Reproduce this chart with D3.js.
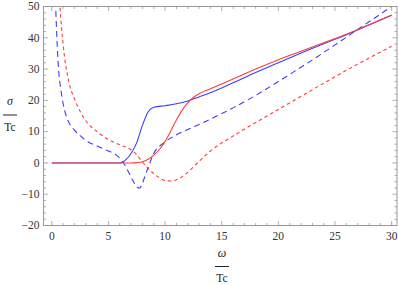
<!DOCTYPE html>
<html>
<head>
<meta charset="utf-8">
<script src="https://cdn.jsdelivr.net/npm/d3@7"></script>
<style>
body { margin: 0; background: #fff; }
</style>
</head>
<body>
<script>
// Data
let blueSolidX = [0, 6.0, 6.5, 7.0, 7.5, 8.0, 8.5, 9.0, 10, 11, 12, 13, 14, 16, 18, 20, 22, 24, 26, 28, 30];
let blueSolidY = [0, 0, 0.9, 3, 6.5, 12, 16.3, 17.8, 18.3, 18.9, 19.8, 21.1, 22.4, 25.6, 28.9, 32.0, 35.1, 38.1, 41.0, 44.1, 47.2];

let redSolidX = [0, 7, 7.5, 8, 8.5, 9, 9.5, 10, 10.5, 11, 11.5, 12, 12.5, 13, 14, 16, 18, 20, 22, 24, 26, 28, 30];
let redSolidY = [0, 0, 0.1, 0.4, 1.2, 2.5, 4.3, 6.9, 10.2, 13.7, 16.8, 19.2, 20.9, 22.1, 23.7, 26.8, 30.0, 33.0, 35.7, 38.4, 41.1, 44.2, 47.3];

let blueDashX = [0.3, 0.45, 0.6, 0.8, 1, 1.5, 2, 2.5, 3, 4, 5, 5.5, 6, 6.5, 7, 7.5, 7.75, 8, 8.5, 9, 10, 11, 12, 13, 14, 16, 18, 20, 22, 24, 26, 28, 30];
let blueDashY = [55, 40, 30, 23.5, 19, 13, 10.5, 8.7, 7.2, 5.4, 3.8, 3, 1.5, -1, -4.5, -7.6, -8.1, -6.4, -1.5, 3, 6.7, 9, 10.7, 12.3, 14, 17.6, 21.6, 26, 30.6, 35.3, 40.2, 45.1, 50];

let redDashX = [0.6, 0.73, 1.0, 1.5, 2, 2.5, 3, 4, 5, 6, 7, 7.5, 8, 9, 10, 10.5, 11, 12, 13, 14, 16, 18, 20, 22, 24, 26, 28, 30];
let redDashY = [60, 50, 38, 26, 20.5, 16.5, 13.5, 10, 7.5, 5.8, 4.2, 2.6, 0.3, -3.4, -5.6, -5.8, -5.4, -3, 0.5, 3.8, 8.6, 12.9, 17.1, 21.3, 25.5, 29.6, 33.5, 37.3];

let xTicks = [0, 5, 10, 15, 20, 25, 30];
let yTicks = [-20, -10, 0, 10, 20, 30, 40, 50];

let series = [
    { x: blueDashX, y: blueDashY, color: "#3c3cff", dash: "6,4" },
    { x: redDashX, y: redDashY, color: "#ff3c3c", dash: "3.5,3" },
    { x: blueSolidX, y: blueSolidY, color: "#3c3cff", dash: null },
    { x: redSolidX, y: redSolidY, color: "#ff3c3c", dash: null }
];

let serif = "'Liberation Serif'";
let width = 399, height = 285;
let plot = { left: 43.5, right: 397, top: 6.5, bottom: 225.5 };

let x = d3.scaleLinear([-0.73, 30.47], [plot.left, plot.right]);
let y = d3.scaleLinear([-20, 50], [plot.bottom, plot.top]);

let svg = d3.select("body")
    .append("svg")
    .attr("width", width)
    .attr("height", height);

svg.append("clipPath")
    .attr("id", "clip")
    .append("rect")
    .attr("x", plot.left)
    .attr("y", plot.top)
    .attr("width", plot.right - plot.left)
    .attr("height", plot.bottom - plot.top);

// Curves
let line = d3.line()
    .x(d => x(d[0]))
    .y(d => y(d[1]))
    .curve(d3.curveMonotoneX);

svg.append("g")
    .attr("clip-path", "url(#clip)")
    .selectAll("path")
    .data(series)
    .enter()
    .append("path")
    .attr("d", s => line(s.x.map((v, i) => [v, s.y[i]])))
    .attr("fill", "none")
    .attr("stroke", s => s.color)
    .attr("stroke-width", 1.1)
    .attr("stroke-dasharray", s => s.dash);

// Frame
let frameColor = "#999";
svg.append("rect")
    .attr("x", plot.left)
    .attr("y", plot.top)
    .attr("width", plot.right - plot.left)
    .attr("height", plot.bottom - plot.top)
    .attr("fill", "none")
    .attr("stroke", frameColor)
    .attr("stroke-width", 1);

// Ticks (inward, on all four sides)
let xMinor = d3.range(0, 31, 1);
let yMinor = d3.range(-20, 51, 2);
let ticks = svg.append("g").attr("stroke", frameColor).attr("stroke-width", 0.8);

xMinor.forEach(v => {
    let len = v % 5 == 0 ? 4.5 : 2.5;
    let px = x(v);
    ticks.append("line").attr("x1", px).attr("x2", px).attr("y1", plot.bottom).attr("y2", plot.bottom - len);
    ticks.append("line").attr("x1", px).attr("x2", px).attr("y1", plot.top).attr("y2", plot.top + len);
});

yMinor.forEach(v => {
    let len = v % 10 == 0 ? 4.5 : 2.5;
    let py = y(v);
    ticks.append("line").attr("y1", py).attr("y2", py).attr("x1", plot.left).attr("x2", plot.left + len);
    ticks.append("line").attr("y1", py).attr("y2", py).attr("x1", plot.right).attr("x2", plot.right - len);
});

// Tick labels
let fmt = v => v < 0 ? "\u2212" + Math.abs(v) : String(v);

svg.append("g")
    .selectAll("text")
    .data(xTicks)
    .enter()
    .append("text")
    .attr("font-family", serif)
    .attr("x", d => x(d))
    .attr("y", plot.bottom + 14.5)
    .attr("text-anchor", "middle")
    .attr("font-size", 11.5)
    .attr("fill", "#333")
    .text(fmt);

svg.append("g")
    .selectAll("text")
    .data(yTicks)
    .enter()
    .append("text")
    .attr("font-family", serif)
    .attr("x", plot.left - 4)
    .attr("y", d => y(d) + 3.8)
    .attr("text-anchor", "end")
    .attr("font-size", 11.5)
    .attr("fill", "#333")
    .text(fmt);

// Axis labels as fractions
function fraction(cx, top, num) {
    let g = svg.append("g").attr("fill", "#222");
    g.append("text")
        .attr("font-family", serif)
        .attr("x", cx)
        .attr("y", top)
        .attr("text-anchor", "middle")
        .attr("font-size", 12)
        .attr("font-style", "italic")
        .text(num);
    g.append("line")
        .attr("x1", cx - 7)
        .attr("x2", cx + 7)
        .attr("y1", top + 10)
        .attr("y2", top + 10)
        .attr("stroke", "#222")
        .attr("stroke-width", 1);
    g.append("text")
        .attr("font-family", serif)
        .attr("x", cx)
        .attr("y", top + 25.5)
        .attr("text-anchor", "middle")
        .attr("font-size", 11.5)
        .text("Tc");
}

fraction(10, 105, "\u03c3");
fraction(222, 256.5, "\u03c9");
</script>
</body>
</html>
